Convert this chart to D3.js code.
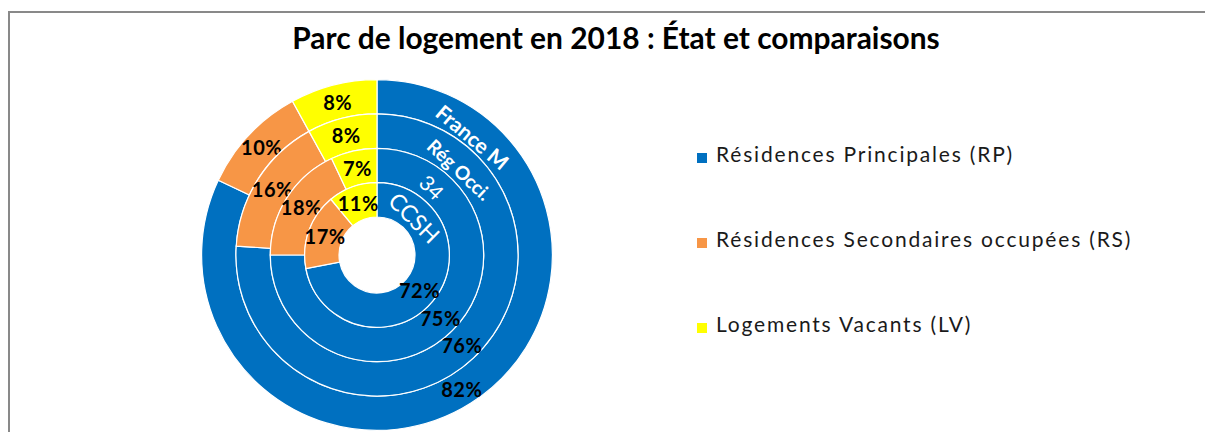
<!DOCTYPE html>
<html lang="fr">
<head>
  <meta charset="UTF-8">
  <title>Parc de logement en 2018</title>
  <script src="https://d3js.org/d3.v7.min.js"></script>
  <style>
    body { margin: 0; background: #fff; }
    svg { display: block; font-family: Lato, "Open Sans", sans-serif; }
  </style>
</head>
<body>
  <div id="chart"></div>
  <script>
    // data, outer ring first
    const rings = ['France M', 'Rég Occi.', '34', 'CCSH'];
    const categories = ['Résidences Principales (RP)', 'Résidences Secondaires occupées (RS)', 'Logements Vacants (LV)'];
    const franceM = [82, 10, 8];
    const regOcci = [76, 16, 8];
    const dep34 = [75, 18, 7];
    const ccsh = [72, 17, 11];
    const series = [franceM, regOcci, dep34, ccsh];
    const colors = ['#0070C0', '#F79646', '#FFFF00'];

    const W = 1205, H = 432;
    const cx = 377, cy = 255;
    const rOuter = 175.4, rHole = 38;
    const band = (rOuter - rHole) / rings.length;

    const svg = d3.select('#chart').append('svg').attr('width', W).attr('height', H);

    // chart frame (only top + left visible)
    svg.append('rect')
      .attr('x', 9).attr('y', 12).attr('width', 1400).attr('height', 600)
      .attr('fill', 'none').attr('stroke', '#898989').attr('stroke-width', 2);

    // title, fitted to the width seen in the reference
    const title = svg.append('text')
      .attr('x', 616).attr('y', 49)
      .attr('text-anchor', 'middle')
      .attr('font-weight', 700)
      .attr('font-size', 29)
      .attr('fill', '#000')
      .text('Parc de logement en 2018 : État et comparaisons');
    const tw = title.node().getComputedTextLength();
    title.attr('font-size', 29 * 648 / tw);

    const pie = d3.pie().sort(null).value(d => d);
    const color = d3.scaleOrdinal().domain(d3.range(3)).range(colors);
    const g = svg.append('g').attr('transform', `translate(${cx},${cy})`);

    series.forEach((vals, i) => {
      const r1 = rOuter - i * band, r0 = r1 - band;
      const arc = d3.arc().innerRadius(r0).outerRadius(r1);
      const arcs = pie(vals);
      g.append('g').selectAll('path')
        .data(arcs)
        .join('path')
        .attr('d', arc)
        .attr('fill', (d, j) => color(j))
        .attr('stroke', '#fff')
        .attr('stroke-width', 1.2);
      g.append('g').selectAll('text')
        .data(arcs)
        .join('text')
        .attr('transform', d => `translate(${arc.centroid(d)})`)
        .attr('text-anchor', 'middle')
        .attr('dominant-baseline', 'central')
        .attr('font-weight', 700)
        .attr('font-size', 20)
        .attr('letter-spacing', 0.5)
        .attr('fill', '#000')
        .text(d => d.data + '%');
    });

    // ring names, rotated inside the blue part
    const ringLabelStyle = [
      { ang: 39, rot: 40, size: 21, weight: 700, dr: -6 },
      { ang: 44, rot: 43, size: 19, weight: 700, dr: -5 },
      { ang: 39, rot: 45, size: 21, weight: 400, dr: -2 },
      { ang: 45, rot: 45, size: 23, weight: 400, dr: -2 }
    ];
    rings.forEach((name, i) => {
      const s = ringLabelStyle[i];
      const r = rOuter - (i + 0.5) * band + s.dr;
      const a = s.ang * Math.PI / 180;
      g.append('text')
        .attr('transform', `translate(${r * Math.sin(a)},${-r * Math.cos(a)}) rotate(${s.rot})`)
        .attr('text-anchor', 'middle')
        .attr('dominant-baseline', 'central')
        .attr('font-weight', s.weight)
        .attr('font-size', s.size)
        .attr('fill', '#fff')
        .text(name);
    });

    // legend
    const leg = svg.append('g').selectAll('g')
      .data(categories)
      .join('g')
      .attr('transform', (d, i) => `translate(697,${153 + i * 85})`);
    leg.append('rect')
      .attr('width', 10).attr('height', 10)
      .attr('fill', (d, i) => color(i));
    const legText = leg.append('text')
      .attr('x', 19).attr('y', 9)
      .attr('font-size', 21)
      .attr('fill', '#1a1a1a')
      .text(d => d);
    // widen spacing so the first entry spans the same width as in the reference
    const lw = legText.node().getComputedTextLength();
    legText.attr('letter-spacing', (298 - lw) / categories[0].length);
  </script>
</body>
</html>
